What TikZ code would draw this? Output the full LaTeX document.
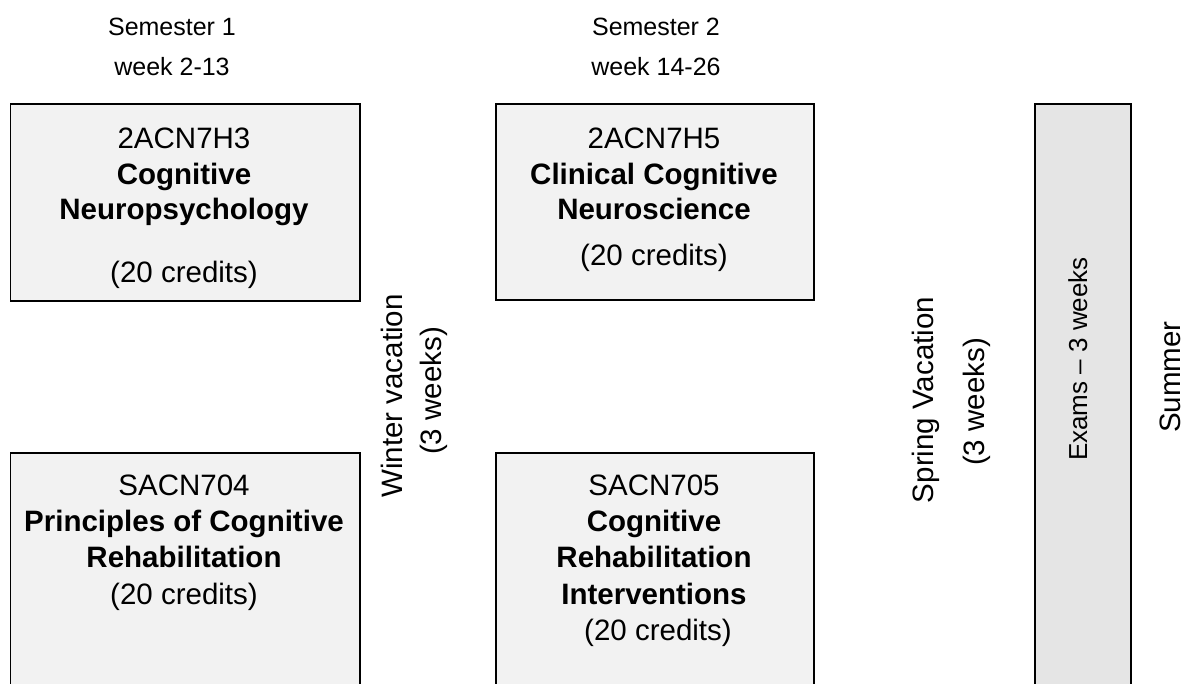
\documentclass[tikz,border=0pt]{standalone}
\usepackage{fontspec}
\setmainfont{Liberation Sans}
\begin{document}
\begin{tikzpicture}[x=1pt,y=-1pt,
  box/.style={draw=black, line width=1.8pt, fill=black!5, inner sep=0pt, anchor=north west},
  exambox/.style={draw=black, line width=1.8pt, fill=black!10, inner sep=0pt, anchor=north west},
  hdr/.style={font=\fontsize{25}{30}\selectfont, anchor=base, inner sep=0pt},
  code/.style={font=\fontsize{29.5}{35}\selectfont, anchor=base, inner sep=0pt},
  ttl/.style={font=\fontsize{29.5}{35}\selectfont\bfseries, anchor=base, inner sep=0pt},
  vtxt/.style={font=\fontsize{29.5}{35}\selectfont, anchor=base, inner sep=0pt, rotate=90}]
\clip (0,0) rectangle (1187,684);
\fill[white] (0,0) rectangle (1187,684);
% headers
\node[hdr] (s1) at (172,36) {Semester 1};
\node[hdr] (w1) at (172,76) {week 2-13};
\node[hdr] (s2) at (656,36) {Semester 2};
\node[hdr] (w2) at (656,76) {week 14-26};
% boxes
\node[box, minimum width=349.5pt, minimum height=197pt] (m1) at (9.5,103) {};
\node[box, minimum width=318pt, minimum height=196pt] (m2) at (495,103) {};
\node[box, minimum width=349.5pt, minimum height=250pt] (m3) at (9.5,452) {};
\node[box, minimum width=318pt, minimum height=250pt] (m4) at (495,452) {};
\node[exambox, minimum width=96pt, minimum height=600pt] (ex) at (1034,103) {};
% box 1
\node[code] (m1a) at (184,149) {2ACN7H3};
\node[ttl]  (m1b) at (184,185) {Cognitive};
\node[ttl]  (m1c) at (184,220) {Neuropsychology};
\node[code] (m1d) at (184,283) {(20 credits)};
% box 2
\node[code] (m2a) at (654,149) {2ACN7H5};
\node[ttl]  (m2b) at (654,185) {Clinical Cognitive};
\node[ttl]  (m2c) at (654,220) {Neuroscience};
\node[code] (m2d) at (654,266) {(20 credits)};
% box 3
\node[code] (m3a) at (184,496) {SACN704};
\node[ttl]  (m3b) at (184,532) {Principles of Cognitive};
\node[ttl]  (m3c) at (184,568) {Rehabilitation};
\node[code] (m3d) at (184,604) {(20 credits)};
% box 4
\node[code] (m4a) at (654,496) {SACN705};
\node[ttl]  (m4b) at (654,532) {Cognitive};
\node[ttl]  (m4c) at (654,568) {Rehabilitation};
\node[ttl]  (m4d) at (654,604) {Interventions};
\node[code] (m4e) at (658,640) {(20 credits)};
% vertical labels
\node[vtxt] (wv) at (402,396) {Winter vacation};
\node[vtxt] (ww) at (441.5,391) {(3 weeks)};
\node[vtxt] (sv) at (933,400) {Spring Vacation};
\node[vtxt] (sw) at (984,402) {(3 weeks)};
\node[vtxt, font=\fontsize{26}{31}\selectfont] (et) at (1087,359) {Exams – 3 weeks};
\node[vtxt] (su) at (1180,377) {Summer};
\end{tikzpicture}
\end{document}
